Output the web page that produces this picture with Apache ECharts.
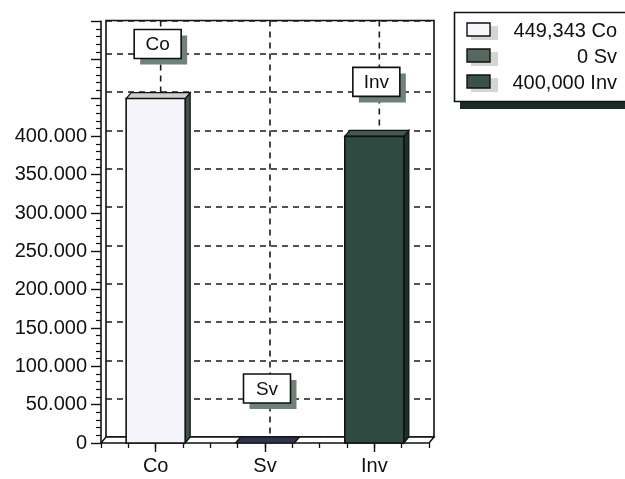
<!DOCTYPE html>
<html>
<head>
<meta charset="utf-8">
<script src="https://cdn.jsdelivr.net/npm/echarts@6/dist/echarts.min.js"></script>
<style>
  html, body { margin: 0; padding: 0; background: #ffffff; }
  #chart { width: 625px; height: 479px; }
</style>
</head>
<body>
<div id="chart"></div>
<script>
// ---- data ----
const categories = ['Co', 'Sv', 'Inv'];
const values = [449343, 0, 400000];
const yMax = 550000;          // front value axis extent
const yBackMax = 543300;      // back wall extent (slightly shorter because of depth)
const yStep = 50000;
const yLabelLimit = 400000;   // tick labels are printed up to this value

// ---- styles ----
const FONT = '"Liberation Sans", Arial, Helvetica, sans-serif';
const INK = '#111111';
const frontColors = ['#f4f4fa', '#2f3350', '#2f4a40'];
const topColors = ['#cdcfcd', '#2f3350', '#3f5a4f'];
const sideColors = ['#3e534b', '#2f3350', '#1b3027'];
const legendColors = ['#f6f6fb', '#55675e', '#3b5248'];
const DX = 5, DY = 6;          // depth offset of the 3D bars / back wall

const chart = echarts.init(document.getElementById('chart'), null, { renderer: 'canvas' });

function dotted(v) {
  return String(v).replace(/\B(?=(\d{3})+(?!\d))/g, '.');
}
function commas(v) {
  return String(v).replace(/\B(?=(\d{3})+(?!\d))/g, ',');
}

// back-wall vertical grid lines at category centres
function renderBackLine(params, api) {
  const x = api.coord([api.value(0), 0])[0];
  const yTop = api.coord([0, yBackMax])[1];
  const yBot = api.coord([0, 0])[1];
  return {
    type: 'line',
    shape: { x1: x, y1: yTop, x2: x, y2: yBot },
    style: { stroke: '#1a1a1a', lineWidth: 1.6, lineDash: [6, 5] }
  };
}

// floor slab
function renderFloor(params, api) {
  const half = api.size([1, 0])[0] / 2;
  const left = api.coord([0, 0])[0] - half;
  const right = api.coord([categories.length - 1, 0])[0] + half;
  const y0 = api.coord([0, 0])[1];
  return {
    type: 'polygon',
    shape: { points: [[left, y0], [left + DX, y0 - DY], [right + DX, y0 - DY], [right, y0]] },
    style: { fill: '#ffffff', stroke: INK, lineWidth: 1.5 }
  };
}

// 3D bar with a boxed name label above it
function renderBar(params, api) {
  const i = api.value(0);
  const v = api.value(1);
  const base = api.coord([i, 0]);
  const top = api.coord([i, v]);
  const w = api.size([1, 0])[0] * 0.54;
  const x = base[0] - w / 2;
  const y0 = base[1];
  const y1 = top[1];
  const children = [];
  if (y0 - y1 > 0.5) {
    children.push({
      type: 'polygon',
      shape: { points: [[x + w, y1], [x + w + DX, y1 - DY], [x + w + DX, y0 - DY], [x + w, y0]] },
      style: { fill: sideColors[i], stroke: INK, lineWidth: 1.2 }
    });
  }
  children.push({
    type: 'polygon',
    shape: { points: [[x, y1], [x + DX, y1 - DY], [x + w + DX, y1 - DY], [x + w, y1]] },
    style: { fill: topColors[i], stroke: INK, lineWidth: 1.2 }
  });
  if (y0 - y1 > 0.5) {
    children.push({
      type: 'rect',
      shape: { x: x, y: y1, width: w, height: y0 - y1 },
      style: { fill: frontColors[i], stroke: INK, lineWidth: 1.6 }
    });
  }
  // name label box
  const bw = 47, bh = 29;
  const bx = base[0] + 2 - bw / 2;
  const by = y1 - 40 - bh;
  children.push({
    type: 'rect',
    shape: { x: bx + 6, y: by + 6, width: bw, height: bh },
    style: { fill: '#6f8179' }
  });
  children.push({
    type: 'rect',
    shape: { x: bx, y: by, width: bw, height: bh },
    style: { fill: '#ffffff', stroke: INK, lineWidth: 1.6 }
  });
  children.push({
    type: 'text',
    style: {
      x: bx + bw / 2, y: by + bh / 2 + 1,
      text: categories[i],
      align: 'center', verticalAlign: 'middle',
      font: '19px ' + FONT, fill: INK
    }
  });
  return { type: 'group', children: children };
}

// legend (value + name per row)
const legendGraphics = [
  { type: 'rect', shape: { x: 460, y: 101, width: 170, height: 8 }, style: { fill: '#1c2b24' }, z: 10 },
  { type: 'rect', shape: { x: 454.5, y: 12.5, width: 180, height: 89 },
    style: { fill: '#ffffff', stroke: INK, lineWidth: 1.6 }, z: 11 }
];
categories.forEach(function (name, i) {
  const rowY = 30 + i * 26;
  legendGraphics.push({
    type: 'rect', shape: { x: 471, y: rowY - 4, width: 27, height: 14 },
    style: { fill: '#d3d6d4' }, z: 12
  });
  legendGraphics.push({
    type: 'rect', shape: { x: 467, y: rowY - 7, width: 23, height: 13 },
    style: { fill: legendColors[i], stroke: INK, lineWidth: 1.4 }, z: 13
  });
  legendGraphics.push({
    type: 'text', z: 13,
    style: {
      x: 617, y: rowY + 1,
      text: commas(values[i]) + ' ' + name,
      align: 'right', verticalAlign: 'middle',
      font: '20px ' + FONT, fill: INK
    }
  });
});

const option = {
  animation: false,
  backgroundColor: '#ffffff',
  grid: [
    { left: 101, top: 21.4, width: 328, height: 421.6 },
    { left: 106, top: 20.5, width: 328, height: 416.5, show: true,
      backgroundColor: 'transparent', borderColor: INK, borderWidth: 1.6, z: 0 }
  ],
  xAxis: [
    {
      gridIndex: 0, type: 'category', data: categories,
      axisLine: { show: false },
      axisTick: { show: true, alignWithLabel: true, length: 9, lineStyle: { color: INK, width: 1.4 } },
      axisLabel: { margin: 13, fontSize: 20, color: INK, fontFamily: FONT },
      splitLine: { show: false }
    },
    {
      gridIndex: 0, type: 'value', min: 0, max: categories.length, interval: 0.25, position: 'bottom',
      axisLine: { show: false },
      axisTick: { show: true, length: 5, lineStyle: { color: INK, width: 1.3 } },
      axisLabel: { show: false },
      splitLine: { show: false }
    },
    {
      gridIndex: 1, type: 'category', data: categories,
      axisLine: { show: false }, axisTick: { show: false }, axisLabel: { show: false },
      splitLine: { show: false }
    }
  ],
  yAxis: [
    {
      gridIndex: 0, type: 'value', min: 0, max: yMax, interval: yStep,
      axisLine: { show: true, lineStyle: { color: INK, width: 1.6 } },
      axisTick: { show: true, length: 10, lineStyle: { color: INK, width: 1.4 } },
      minorTick: { show: true, splitNumber: 5, length: 5, lineStyle: { color: INK, width: 1.2 } },
      axisLabel: {
        margin: 14, fontSize: 20, color: INK, fontFamily: FONT,
        formatter: function (v) { return v <= yLabelLimit ? dotted(v) : ''; }
      },
      splitLine: { show: false }
    },
    {
      gridIndex: 1, type: 'value', min: 0, max: yBackMax, interval: yStep,
      axisLine: { show: false }, axisTick: { show: false }, axisLabel: { show: false },
      splitLine: { show: true, lineStyle: { color: '#1a1a1a', width: 1.6, type: [6, 5] } }
    }
  ],
  series: [
    {
      type: 'custom', xAxisIndex: 2, yAxisIndex: 1, z: 1, silent: true,
      renderItem: renderBackLine,
      data: categories.map(function (c, i) { return [i]; })
    },
    {
      type: 'custom', xAxisIndex: 0, yAxisIndex: 0, z: 2, silent: true,
      renderItem: renderFloor,
      data: [[0]]
    },
    {
      type: 'custom', xAxisIndex: 0, yAxisIndex: 0, z: 3,
      renderItem: renderBar,
      encode: { x: 0, y: 1 },
      data: values.map(function (v, i) { return [i, v]; })
    }
  ],
  graphic: legendGraphics
};

chart.setOption(option);
</script>
</body>
</html>
